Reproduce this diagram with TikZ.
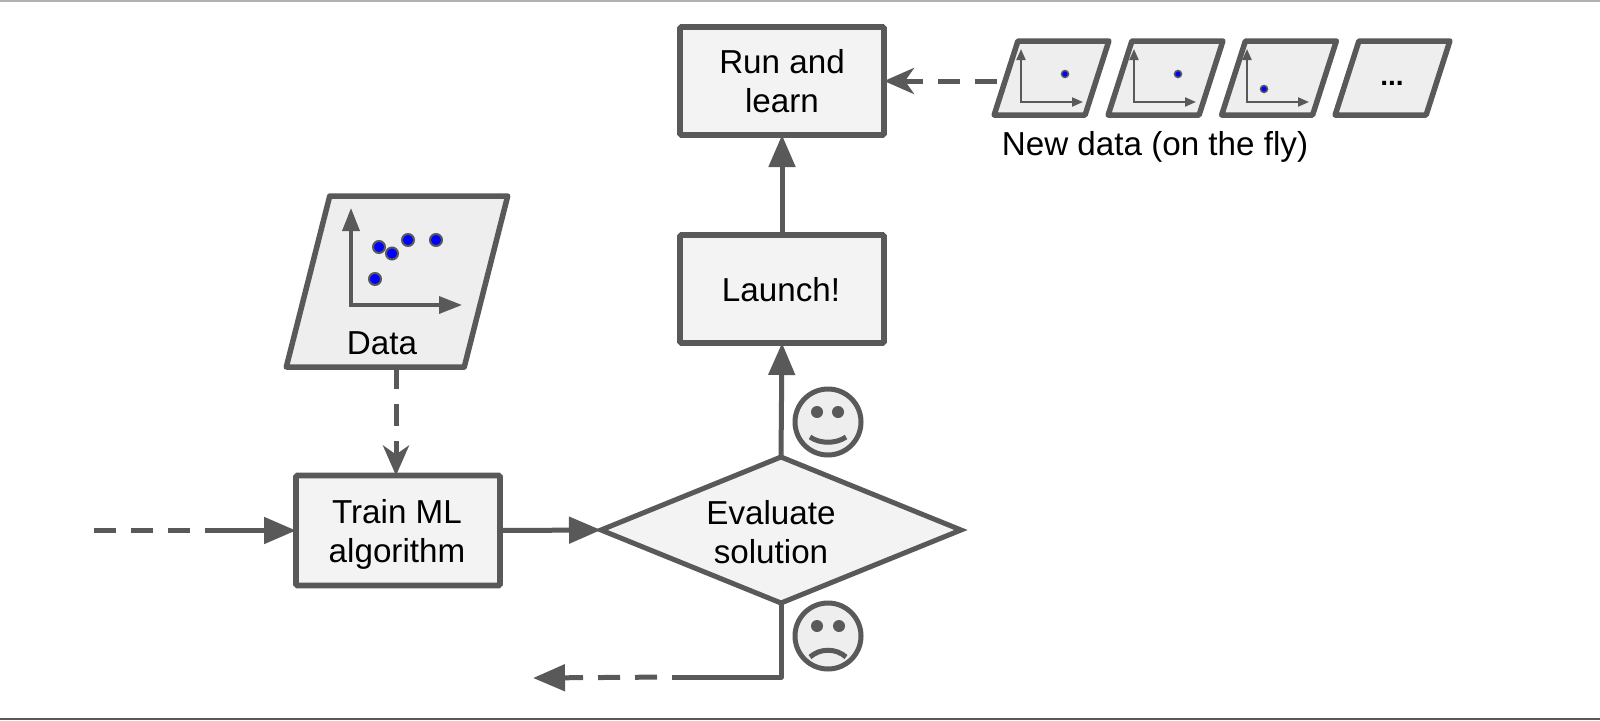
\documentclass[tikz,border=0pt]{standalone}
\usepackage{fontspec}
\setmainfont{Liberation Sans}
\usetikzlibrary{shapes.geometric,arrows.meta}
\definecolor{ink}{HTML}{595959}
\definecolor{boxfill}{HTML}{F3F3F3}
\definecolor{panelfill}{HTML}{EEEEEE}
\definecolor{dotblue}{HTML}{0000FF}
\tikzset{
  x=1pt,y=-1pt,
  every node/.style={font=\fontsize{33.2}{39}\selectfont,text=black,align=center,inner sep=0pt,outer sep=0pt},
  procbox/.style={draw=ink,fill=boxfill,line width=5.8pt,rounded corners=1.5pt,minimum width=204pt,minimum height=108pt},
  decision/.style={diamond,draw=ink,fill=boxfill,line width=5pt,minimum width=360pt,minimum height=146pt,aspect=2.48},
  panel/.style={trapezium,trapezium stretches=true,draw=ink,fill=panelfill,line width=5.5pt,line join=round},
  bigpanel/.style={panel,trapezium left angle=73,trapezium right angle=107,minimum width=222pt,minimum height=171pt},
  smallpanel/.style={panel,trapezium left angle=71.5,trapezium right angle=108.5,minimum width=115pt,minimum height=74pt},
  flow/.style={draw=ink,line width=5pt,-{Triangle[length=32pt,width=26pt,fill=ink]}},
  notched/.style={draw=ink,line width=5pt,dash pattern=on 22pt off 15pt,-{Stealth[length=30pt,width=26pt,inset=9pt,fill=ink]}},
  plain/.style={draw=ink,line width=5pt},
  dashline/.style={draw=ink,line width=5pt,dash pattern=on 22pt off 15pt},
  axisthin/.style={draw=ink,line width=2pt,{Triangle[length=11pt,width=9pt,fill=ink]}-{Triangle[length=11pt,width=9pt,fill=ink]}},
  axisbig/.style={draw=ink,line width=3.5pt,{Triangle[length=23pt,width=17pt,fill=ink]}-{Triangle[length=23pt,width=17pt,fill=ink]}},
  dotbig/.style={circle,draw=ink,fill=dotblue,line width=2pt,minimum size=12pt},
  dotsmall/.style={circle,draw=ink,fill=dotblue,line width=1.5pt,minimum size=7pt},
  face/.style={circle,draw=ink,fill=panelfill,line width=5pt,minimum size=66pt},
  eye/.style={circle,fill=ink,minimum size=12pt},
  mouth/.style={draw=ink,line width=5pt},
}
\begin{document}
\begin{tikzpicture}
\useasboundingbox (0,0) rectangle (1600,720);
\fill[white] (0,0) rectangle (1600,720);
\fill[black!30] (0,0) rectangle (1600,1.5);
\fill[ink] (0,718) rectangle (1600,720);

% process nodes
\node[procbox] (run) at (782,81) {Run and\\learn};
\node[procbox] (launch) at (782,289) {};
\node (launchtext) at (781,290) {Launch!};
\node[procbox,minimum height=110pt] (train) at (398,530.5) {};
\node (traintext) at (397,534) {Train ML\\algorithm};
\node[decision] (eval) at (781,530) {};
\node (evaltext) at (771,532) {Evaluate\\solution};

% training data
\node[bigpanel] (data) at (397,281.5) {\phantom{x}};
\node (datatext) at (382,343) {Data};
\coordinate (dorigin) at (351,305);
\coordinate (dtop) at (351,208);
\coordinate (dright) at (462,305);
\draw[axisbig] (dtop) -- (dorigin) -- (dright);
\node[dotbig] (d1) at (379,247) {};
\node[dotbig] (d2) at (392,253.5) {};
\node[dotbig] (d3) at (408,240) {};
\node[dotbig] (d4) at (436,240) {};
\node[dotbig] (d5) at (375,279) {};

% new data panels
\node[smallpanel] (p1) at (1051.5,78) {\phantom{x}};
\node[smallpanel] (p2) at (1165.5,78) {\phantom{x}};
\node[smallpanel] (p3) at (1279,78) {\phantom{x}};
\node[smallpanel] (p4) at (1392.5,78) {\phantom{x}};
\node[font=\fontsize{28}{28}\selectfont\bfseries] (more) at (1392,83) {...};
\foreach \ox in {1021,1134,1247}{
  \draw[axisthin] (\ox,49) -- (\ox,102) -- (\ox+62,102);
}
\node[dotsmall] (n1) at (1065,74) {};
\node[dotsmall] (n2) at (1178,74) {};
\node[dotsmall] (n3) at (1264,89) {};
\node (newtext) at (1155,147) {New data (on the fly)};

% connectors
\draw[flow] (launch.north) -- (run.south);
\draw[flow] (eval.north) -- (launch.south);
\draw[flow] (train.east) -- (eval.west);

\coordinate (infree) at (94,530.5);
\coordinate (inmid) at (206,530.5);
\draw[dashline] (infree) -- (inmid);
\draw[flow] (inmid) -- (train.west);

\draw[notched] ([xshift=-1pt]data.south) -- ([xshift=-2pt]train.north);

\draw[notched,shorten <=9pt] (p1.west |- run.east) -- (run.east);

\coordinate (outcorner) at (781,677);
\coordinate (outmid) at (672,677);
\coordinate (outfree) at (533,678);
\draw[plain,line join=round] (eval.south) -- (outcorner) -- (outmid);
\draw[flow,dash pattern=on 22pt off 15pt,dash phase=-15pt] (outmid) -- (outfree);

% faces
\node[face] (happy) at (828,422) {};
\node[eye] (he1) at (817,412) {};
\node[eye] (he2) at (838,412) {};
\draw[mouth] (810,437) .. controls (820,444) and (836,444) .. (846,437);
\node[face] (sad) at (828,636) {};
\node[eye] (se1) at (817,626) {};
\node[eye] (se2) at (839,626) {};
\draw[mouth] (810,657) .. controls (820,648) and (836,648) .. (846,657);
\end{tikzpicture}
\end{document}
